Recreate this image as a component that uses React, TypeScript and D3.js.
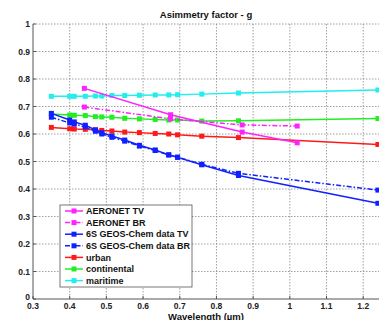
import { useEffect, useRef } from 'react';
import * as d3 from 'd3';

// 6S wavelengths (um)
const wl6s = [0.35, 0.4, 0.4125, 0.4425, 0.47, 0.4875, 0.515, 0.55, 0.59, 0.633, 0.67, 0.694, 0.76, 0.86, 1.24];
const wlAeronet = [0.44, 0.675, 0.87, 1.02];

const aeronetTV = [0.766, 0.670, 0.607, 0.568];
const aeronetBR = [0.698, 0.655, 0.633, 0.629];
const geosTV = [0.675, 0.651, 0.644, 0.632, 0.615, 0.605, 0.593, 0.578, 0.559, 0.542, 0.524, 0.515, 0.488, 0.449, 0.348];
const geosBR = [0.661, 0.640, 0.636, 0.626, 0.610, 0.600, 0.588, 0.574, 0.556, 0.540, 0.524, 0.516, 0.490, 0.457, 0.396];
const urban = [0.624, 0.619, 0.618, 0.617, 0.615, 0.613, 0.611, 0.607, 0.605, 0.602, 0.600, 0.597, 0.592, 0.587, 0.562];
const continental = [0.673, 0.669, 0.668, 0.667, 0.663, 0.662, 0.661, 0.657, 0.655, 0.653, 0.651, 0.651, 0.647, 0.648, 0.656];
const maritime = [0.737, 0.737, 0.737, 0.737, 0.738, 0.738, 0.740, 0.740, 0.741, 0.742, 0.742, 0.743, 0.745, 0.749, 0.760];

const xTicks = [0.3, 0.4, 0.5, 0.6, 0.7, 0.8, 0.9, 1, 1.1, 1.2];
const yTicks = [0, 0.1, 0.2, 0.3, 0.4, 0.5, 0.6, 0.7, 0.8, 0.9, 1];

const series = [
  { name: 'AERONET TV', x: wlAeronet, y: aeronetTV, color: '#ff22ff', dash: null },
  { name: 'AERONET BR', x: wlAeronet, y: aeronetBR, color: '#ff22ff', dash: '5,2,1.5,2' },
  { name: '6S GEOS-Chem data TV', x: wl6s, y: geosTV, color: '#1020ff', dash: null },
  { name: '6S GEOS-Chem data BR', x: wl6s, y: geosBR, color: '#1020ff', dash: '5,2,1.5,2' },
  { name: 'urban', x: wl6s, y: urban, color: '#ff1a1a', dash: null },
  { name: 'continental', x: wl6s, y: continental, color: '#22ee22', dash: null },
  { name: 'maritime', x: wl6s, y: maritime, color: '#22eeee', dash: null },
];

const App = () => {
  const ref = useRef<SVGSVGElement>(null);

  useEffect(() => {
    const width = 379,
      height = 320;
    const svg = d3.select(ref.current).attr('width', width).attr('height', height);
    svg.selectAll('*').remove();

    const left = 33,
      right = 379,
      top = 24,
      bottom = 299;
    const x = d3.scaleLinear().domain([0.3, 1.243]).range([left, right]);
    const y = d3.scaleLinear().domain([0, 1]).range([bottom, top]);
    const font = 'Arial, "Liberation Sans", sans-serif';

    svg.append('rect').attr('width', width).attr('height', height).attr('fill', '#fff');

    // grid
    const grid = svg.append('g').attr('stroke', '#888').attr('stroke-width', 0.8).attr('stroke-dasharray', '1.5,1.5');
    xTicks.slice(1).forEach((t) => {
      grid.append('line').attr('x1', x(t)).attr('x2', x(t)).attr('y1', top).attr('y2', bottom);
    });
    yTicks.slice(1).forEach((t) => {
      grid.append('line').attr('x1', left).attr('x2', right).attr('y1', y(t)).attr('y2', y(t));
    });

    // axes
    svg.append('line').attr('x1', left).attr('x2', left).attr('y1', top).attr('y2', bottom).attr('stroke', '#555').attr('stroke-width', 1);
    svg.append('line').attr('x1', left).attr('x2', right).attr('y1', bottom).attr('y2', bottom).attr('stroke', '#555').attr('stroke-width', 1);
    xTicks.forEach((t) => {
      svg.append('line').attr('x1', x(t)).attr('x2', x(t)).attr('y1', bottom).attr('y2', bottom - 3).attr('stroke', '#555');
    });
    yTicks.forEach((t) => {
      svg.append('line').attr('x1', left).attr('x2', left + 3).attr('y1', y(t)).attr('y2', y(t)).attr('stroke', '#555');
    });

    svg
      .append('g')
      .selectAll('text')
      .data(xTicks)
      .join('text')
      .attr('x', (d) => x(d))
      .attr('y', bottom + 9.5)
      .attr('text-anchor', 'middle')
      .attr('font-family', font)
      .attr('font-size', 8.5)
      .attr('font-weight', 'bold')
      .attr('fill', '#222')
      .text((d) => d3.format('~g')(d));

    svg
      .append('g')
      .selectAll('text')
      .data(yTicks)
      .join('text')
      .attr('x', left - 3)
      .attr('y', (d) => y(d) + (d === 0 ? 1 : 3))
      .attr('text-anchor', 'end')
      .attr('font-family', font)
      .attr('font-size', 8.5)
      .attr('font-weight', 'bold')
      .attr('fill', '#222')
      .text((d) => d3.format('~g')(d));

    svg
      .append('text')
      .attr('x', (left + right) / 2)
      .attr('y', 18)
      .attr('text-anchor', 'middle')
      .attr('font-family', font)
      .attr('font-size', 9.5)
      .attr('font-weight', 'bold')
      .attr('fill', '#111')
      .text('Asimmetry factor - g');

    svg
      .append('text')
      .attr('x', (left + right) / 2)
      .attr('y', 319.5)
      .attr('text-anchor', 'middle')
      .attr('font-family', font)
      .attr('font-size', 9.5)
      .attr('font-weight', 'bold')
      .attr('fill', '#111')
      .text('Wavelength (\u00b5m)');

    // series, drawn bottom-up so AERONET ends on top
    const line = d3
      .line<[number, number]>()
      .x((d) => x(d[0]))
      .y((d) => y(d[1]));
    const plot = svg.append('g');
    series
      .slice()
      .reverse()
      .forEach((s) => {
        const pts = s.x.map((v, i) => [v, s.y[i]] as [number, number]);
        plot
          .append('path')
          .datum(pts)
          .attr('fill', 'none')
          .attr('stroke', s.color)
          .attr('stroke-width', 1.5)
          .attr('stroke-dasharray', s.dash)
          .attr('d', line);
        plot
          .selectAll(null)
          .data(pts)
          .join('rect')
          .attr('x', (d) => x(d[0]) - 2.5)
          .attr('y', (d) => y(d[1]) - 2.5)
          .attr('width', 5)
          .attr('height', 5)
          .attr('fill', s.color);
      });

    // legend
    const lg = svg.append('g').attr('transform', 'translate(60,205)');
    lg.append('rect').attr('width', 132).attr('height', 82).attr('fill', '#fff').attr('stroke', '#555').attr('stroke-width', 0.8);
    series.forEach((s, i) => {
      const ly = 6 + i * 11.6;
      lg.append('line')
        .attr('x1', 5)
        .attr('x2', 23)
        .attr('y1', ly)
        .attr('y2', ly)
        .attr('stroke', s.color)
        .attr('stroke-width', 1.5)
        .attr('stroke-dasharray', s.dash);
      lg.append('rect').attr('x', 11.5).attr('y', ly - 2.5).attr('width', 5).attr('height', 5).attr('fill', s.color);
      lg.append('text')
        .attr('x', 26)
        .attr('y', ly + 3.2)
        .attr('font-family', font)
        .attr('font-size', 9)
        .attr('font-weight', 'bold')
        .attr('fill', '#111')
        .text(s.name);
    });
  }, []);

  return <svg ref={ref} style={{ position: 'absolute', left: 0, top: 0 }} />;
};

export default App;
